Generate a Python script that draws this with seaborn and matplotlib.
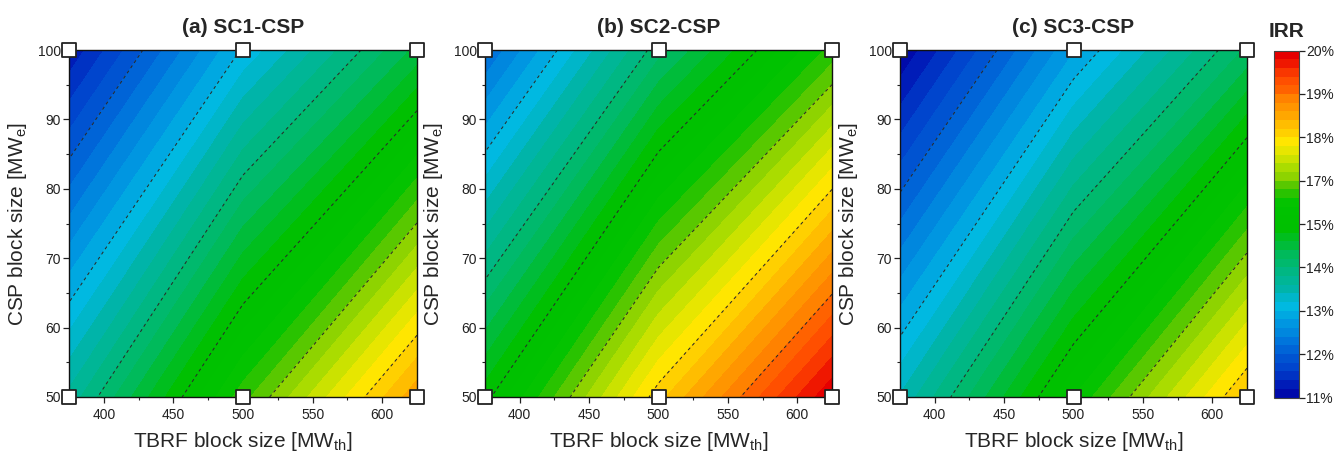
import numpy as np
import matplotlib
matplotlib.use("Agg")
import matplotlib.pyplot as plt
import seaborn as sns
from matplotlib.colors import LinearSegmentedColormap
from matplotlib.ticker import MultipleLocator

# ------------------------------------------------------------
# data: IRR at the simulated block sizes (colour-scale units)
# rows -> CSP 50 / 100 MWe, columns -> TBRF 375 / 500 / 625 MWth
# ------------------------------------------------------------
tbrf_size = [375, 500, 625]
csp_size = [50, 100]

irr_sc1 = [[13.66, 15.72, 17.55], [11.24, 13.03, 14.46]]
irr_sc2 = [[14.92, 17.12, 18.98], [12.20, 14.12, 15.67]]
irr_sc3 = [[13.42, 15.40, 17.25], [11.01, 12.78, 14.24]]

panel_titles = ["(a) SC1-CSP", "(b) SC2-CSP", "(c) SC3-CSP"]

cbar_ticks = [11, 12, 13, 14, 15, 16, 17, 18, 19]
cbar_labels = ["11%", "12%", "13%", "14%", "15%", "17%", "18%", "19%", "20%"]

# ------------------------------------------------------------
# style
# ------------------------------------------------------------
sns.set_style("ticks")
plt.rcParams["font.family"] = ["Liberation Sans", "DejaVu Sans"]
plt.rcParams["mathtext.default"] = "regular"

# colour of each band, sampled from the original scale (level, rgb)
anchors = [
    (11.0, (0, 5, 165)), (11.1, (0, 10, 170)), (11.3, (0, 30, 185)),
    (11.5, (0, 50, 195)), (11.7, (0, 70, 205)), (11.9, (0, 85, 210)),
    (12.1, (0, 100, 215)), (12.3, (0, 118, 220)), (12.5, (0, 135, 222)),
    (12.7, (0, 150, 225)), (12.9, (0, 170, 225)), (13.1, (0, 185, 225)),
    (13.3, (0, 182, 200)), (13.5, (0, 180, 170)), (13.7, (0, 182, 150)),
    (13.9, (0, 183, 130)), (14.1, (0, 185, 110)), (14.3, (0, 186, 90)),
    (14.5, (0, 188, 60)), (14.7, (0, 190, 30)), (14.9, (0, 192, 0)),
    (15.5, (0, 195, 0)), (15.7, (40, 195, 0)), (15.9, (90, 200, 0)),
    (16.1, (140, 210, 0)), (16.3, (170, 220, 0)), (16.5, (200, 225, 0)),
    (16.7, (230, 230, 0)), (16.9, (255, 230, 0)), (17.1, (255, 210, 0)),
    (17.3, (255, 190, 0)), (17.5, (255, 170, 0)), (17.7, (255, 150, 0)),
    (17.9, (255, 130, 0)), (18.1, (255, 100, 0)), (18.3, (255, 80, 0)),
    (18.5, (250, 60, 0)), (18.7, (240, 25, 0)), (18.9, (230, 0, 0)),
    (19.0, (230, 0, 0)),
]
cmap = LinearSegmentedColormap.from_list(
    "origin_rainbow",
    [((v - 11) / 8, tuple(c / 255 for c in rgb)) for v, rgb in anchors],
)

fill_levels = np.linspace(11, 19, 41)
line_levels = [12, 13, 14, 15, 16, 17, 18]

W, H = 1339, 454
fig = plt.figure(figsize=(W / 100, H / 100), dpi=100)


def px_axes(x0, x1, y0, y1):
    return fig.add_axes([x0 / W, 1 - y1 / H, (x1 - x0) / W, (y1 - y0) / H])


panel_x = [(69, 417), (485, 832), (900, 1247)]
X, Y = np.meshgrid(tbrf_size, csp_size)

for (x0, x1), title, irr in zip(panel_x, panel_titles, [irr_sc1, irr_sc2, irr_sc3]):
    ax = px_axes(x0, x1, 50, 397)
    Z = np.array(irr)

    cf = ax.contourf(X, Y, Z, levels=fill_levels, cmap=cmap, vmin=11, vmax=19)
    cs = ax.contour(X, Y, Z, levels=line_levels, colors="#2a2a2a", linewidths=0.75)
    cs.set_linestyle((0, (3, 3)))

    pts = {"x": X.ravel(), "y": Y.ravel()}
    sns.scatterplot(
        data=pts, x="x", y="y", ax=ax,
        marker="s", s=95, color="white", edgecolor="#222222",
        linewidth=1.3, clip_on=False, zorder=6, legend=False,
    )

    ax.set_xlim(375, 625)
    ax.set_ylim(50, 100)
    ax.set_xticks([400, 450, 500, 550, 600])
    ax.set_yticks([50, 60, 70, 80, 90, 100])
    ax.xaxis.set_minor_locator(MultipleLocator(25))
    ax.yaxis.set_minor_locator(MultipleLocator(5))
    ax.tick_params(which="major", direction="out", length=4, width=0.9,
                   labelsize=10, colors="#222222")
    ax.tick_params(which="minor", direction="out", length=2.5, width=0.8,
                   colors="#222222")
    ax.tick_params(axis="x", pad=4)
    ax.tick_params(axis="y", pad=2)

    for sp in ax.spines.values():
        sp.set_visible(True)
        sp.set_color("#111111")
        sp.set_linewidth(1.0)

    ax.set_xlabel("TBRF block size [MW$_{th}$]", fontsize=15, labelpad=6)
    ax.set_ylabel("CSP block size [MW$_{e}$]", fontsize=15, labelpad=6)
    ax.set_title(title, fontsize=15, fontweight="bold", pad=12)

# ------------------------------------------------------------
# colour bar
# ------------------------------------------------------------
cax = px_axes(1274, 1299, 50.5, 397.5)
cb = fig.colorbar(cf, cax=cax, ticks=cbar_ticks)
cb.ax.set_yticklabels(cbar_labels)
cb.ax.minorticks_off()
cb.ax.tick_params(direction="out", length=4, width=0.9, labelsize=10,
                  colors="#222222", pad=1)
cb.outline.set_edgecolor("#444444")
cb.outline.set_linewidth(0.8)
cb.ax.set_title("IRR", fontsize=15, fontweight="bold", pad=10)

fig.savefig("out.png", dpi=100)
